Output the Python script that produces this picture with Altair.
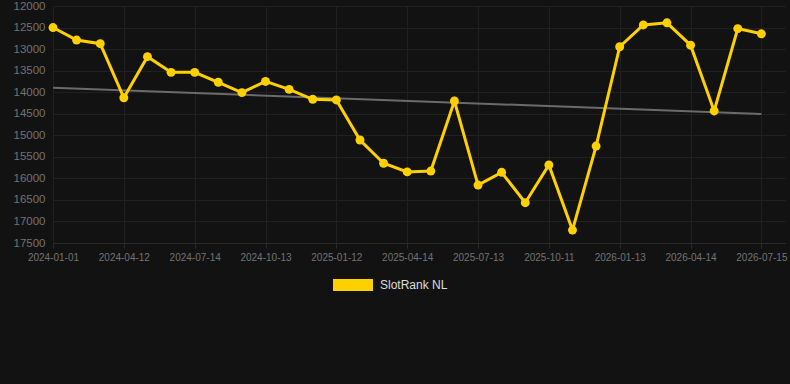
import altair as alt
import pandas as pd

dates = [
    "2024-01-01", "2024-02-04", "2024-03-09", "2024-04-12", "2024-05-13", "2024-06-13",
    "2024-07-14", "2024-08-13", "2024-09-13", "2024-10-13", "2024-11-12", "2024-12-12",
    "2025-01-12", "2025-02-12", "2025-03-14", "2025-04-14", "2025-05-14", "2025-06-13",
    "2025-07-13", "2025-08-12", "2025-09-11", "2025-10-11", "2025-11-12", "2025-12-13",
    "2026-01-13", "2026-02-12", "2026-03-15", "2026-04-14", "2026-05-15", "2026-06-14",
    "2026-07-15",
]
ranks = [
    12500, 12790, 12875, 14130, 13175, 13540, 13540, 13770, 14010, 13750, 13935, 14165,
    14180, 15110, 15650, 15850, 15830, 14205, 16155, 15860, 16565, 15690, 17200, 15250,
    12945, 12440, 12390, 12910, 14435, 12525, 12645,
]
trend_dates = ["2024-01-01", "2026-07-15"]
trend_values = [13900, 14505]
tick_dates = dates[::3]
y_ticks = [12000, 12500, 13000, 13500, 14000, 14500, 15000, 15500, 16000, 16500, 17000, 17500]
series_name = "SlotRank NL"

df = pd.DataFrame({"date": dates, "rank": ranks, "series": series_name})
tdf = pd.DataFrame({"date": trend_dates, "rank": trend_values})

xscale = alt.Scale(domain=dates, padding=0.5, align=0)
x = alt.X("date:N", sort=None, scale=xscale,
          axis=alt.Axis(values=tick_dates, labelAngle=0, labelAlign="center", title=None,
                        grid=True, gridColor="#202020", domainColor="#2a2a2a",
                        tickColor="#2a2a2a", tickSize=5, labelColor="#727272",
                        labelFontSize=10, labelFont="Liberation Sans", labelPadding=4,
                        labelOverlap=False))
yscale = alt.Scale(domain=[12000, 17500], reverse=True, nice=False, zero=False)
y = alt.Y("rank:Q", scale=yscale,
          axis=alt.Axis(values=y_ticks, title=None, grid=True,
                        gridColor="#202020", domain=False, ticks=False,
                        labelColor="#727272", labelFontSize=11.5, labelFont="Liberation Sans",
                        labelPadding=8, format="d", labelOverlap=False))

trend = alt.Chart(tdf).mark_line(color="#6b6b6b", strokeWidth=2).encode(x=x, y=y)

color = alt.Color("series:N", scale=alt.Scale(range=["#FFD000"]),
                  legend=alt.Legend(title=None, orient="none", legendX=280, legendY=259,
                                    symbolType="M-1,-0.3L1,-0.3L1,0.3L-1,0.3Z",
                                    symbolSize=1600, symbolStrokeWidth=0,
                                    symbolFillColor="#FFD000", symbolOpacity=1,
                                    labelColor="#dddddd", labelFontSize=12,
                                    labelFont="Liberation Sans", labelOffset=7))

line = alt.Chart(df).mark_line(strokeWidth=3, color="#FFD000").encode(x=x, y=y, color=color)
pts = alt.Chart(df).mark_circle(size=80, opacity=1, color="#FFD000").encode(x=x, y=y)

chart = alt.layer(trend, line, pts).properties(
    width=732, height=237,
    background="#121212",
    padding={"left": 53, "top": 6, "right": 5, "bottom": 141},
    autosize=alt.AutoSizeParams(type="none"),
).configure_view(stroke=None)

chart.save("out.html", embed_options={"renderer": "svg", "actions": False})
